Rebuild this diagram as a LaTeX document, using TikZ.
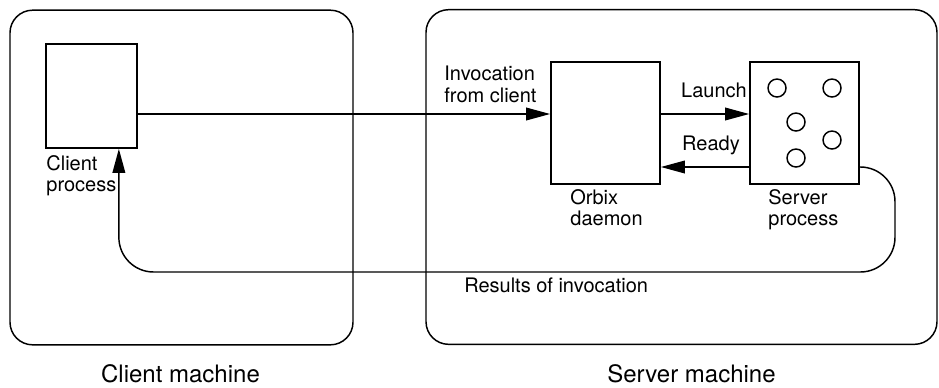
\documentclass[tikz,border=0pt]{standalone}
\usepackage{fontspec}
\setmainfont{TeX Gyre Heros}
\usetikzlibrary{calc,arrows.meta}

\begin{document}
\begin{tikzpicture}[x=0.75pt,y=-0.75pt,
        flow/.style={line width=1.1pt, -{Triangle[length=18pt,width=9.5pt]}},
    ]
    % machines (rounded frames)
    \tikzstyle{mach}=[draw, line width=1.1pt, rounded corners=17pt, minimum height=251pt]
    % processes
    \tikzstyle{proc}=[draw, line width=1.3pt, minimum width=81.75pt, minimum height=91.5pt]
    % objects inside the server
    \tikzstyle{obj}=[draw, circle, line width=1.1pt, inner sep=0, minimum size=13.5pt]
    % texts
    \tikzstyle{lbl}=[inner sep=0, align=left, font=\fontsize{15}{16}\selectfont]
    \tikzstyle{mcap}=[inner sep=0, font=\fontsize{18}{21}\selectfont]
    \useasboundingbox (0,0) rectangle (939,387);
    \node[mach, minimum width=257.25pt] (CM) at (181.5,177.5) {};
    \node[mach, minimum width=383.25pt] (SM) at (681.5,177) {};
    \node[proc, minimum width=68.25pt, minimum height=78pt] (CP) at (91.5,96) {};
    \node[proc] (OD) at (605.5,123) {};
    \node[proc] (SP) at (804.5,123) {};
    \node[obj] (O1) at ($(SP)+(-27.5,-35)$) {};
    \node[obj] (O2) at ($(SP)+(27.5,-35)$) {};
    \node[obj] (O3) at ($(SP)+(-8.5,-1)$) {};
    \node[obj] (O4) at ($(SP)+(27.5,17)$) {};
    \node[obj] (O5) at ($(SP)+(-8.5,35)$) {};
    \coordinate (L) at (0,114);
    \coordinate (R) at (0,167);
    \coordinate (RB) at (895,272);
    \coordinate (CPin) at ($(CP.south east)+(-19,0)$);
    \draw[flow] (CP.east |- L) -- (OD.west |- L);
    \draw[flow] (OD.east |- L) -- (SP.west |- L);
    \draw[flow] (SP.west |- R) -- (OD.east |- R);
    \draw[flow, rounded corners=26pt] (SP.east |- R) -| (RB) -| (CPin);
    \node[lbl, anchor=north west] (CPt) at ($(CP.south west)+(1,6)$) {Client\\process};
    \node[lbl, anchor=north west] (INV) at ($(OD.north west)+(-106,5)$) {Invocation\\from client};
    \node[lbl, anchor=base west] (LCH) at ($(OD.north east)+(20,36)$) {Launch};
    \node[lbl, anchor=base west] (RDY) at ($(OD.north east)+(21,89)$) {Ready};
    \node[lbl, anchor=north west] (ODt) at ($(OD.south west)+(20,4)$) {Orbix\\daemon};
    \node[lbl, anchor=north west] (SPt) at ($(SP.south west)+(19,4)$) {Server\\process};
    \node[lbl, anchor=north west] (RES) at (464,278) {Results of invocation};
    \node[mcap, anchor=base] (CMt) at ($(CM.south)+(-1,37)$) {Client machine};
    \node[mcap, anchor=base] (SMt) at ($(SM.south)+(10,37)$) {Server machine};
\end{tikzpicture}
\end{document}
